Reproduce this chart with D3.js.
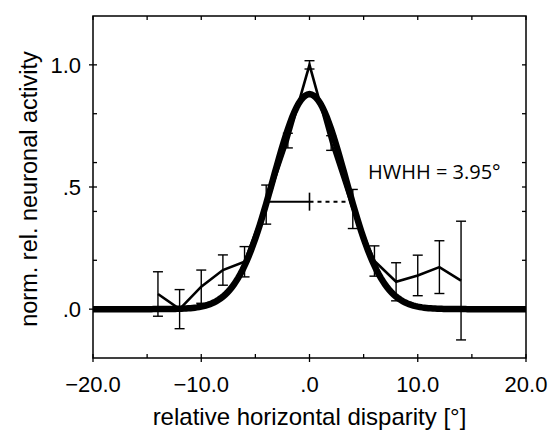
<!DOCTYPE html>
<html lang="en">
<head>
  <meta charset="UTF-8">
  <title>Disparity tuning</title>
  <style>
    body {
      margin: 0;
      background: #fff;
    }
    svg text {
      font-family: "Liberation Sans", Arial, sans-serif;
      fill: #000;
    }
  </style>
</head>
<body>
  <script src="https://d3js.org/d3.v7.min.js"></script>
  <script>
    // measured responses (mean +- error) per disparity
    const disparity = [-14, -12, -10, -8, -6, -4, -2, 0, 2, 4, 6, 8, 10, 12, 14];
    const activity  = [0.062, 0.0, 0.092, 0.16, 0.194, 0.428, 0.69, 1.0, 0.68, 0.41, 0.197, 0.112, 0.138, 0.172, 0.117];
    const errors    = [0.091, 0.08, 0.068, 0.062, 0.062, 0.08, 0.03, 0.017, 0.03, 0.08, 0.062, 0.078, 0.083, 0.108, 0.243];

    // gaussian fit
    const fitPeak = 0.88;
    const hwhh = 3.95;
    const fitX = d3.range(-20, 20.01, 0.2);

    const xTicks = [-20, -10, 0, 10, 20];
    const xTickLabels = ['\u221220.0', '\u221210.0', '.0', '10.0', '20.0'];
    const xMinor = [-15, -5, 5, 15];
    const yTicks = [0, 0.5, 1.0];
    const yTickLabels = ['.0', '.5', '1.0'];
    const yMinor = [0.2, 0.4, 0.6, 0.8];

    const width = 555, height = 433;
    const margin = {top: 16, right: 29, bottom: 75, left: 93};

    const svg = d3.select('body').append('svg')
      .attr('width', width)
      .attr('height', height);

    const x = d3.scaleLinear().domain([-20, 20]).range([margin.left, width - margin.right]);
    const y = d3.scaleLinear().domain([-0.2, 1.2]).range([height - margin.bottom, margin.top]);

    const sigma = hwhh / Math.sqrt(2 * Math.log(2));
    const gauss = v => fitPeak * Math.exp(-(v * v) / (2 * sigma * sigma));

    // frame
    svg.append('rect')
      .attr('x', x(-20)).attr('y', y(1.2))
      .attr('width', x(20) - x(-20)).attr('height', y(-0.2) - y(1.2))
      .attr('fill', 'none').attr('stroke', '#000').attr('stroke-width', 1.5);

    const tickG = svg.append('g').attr('stroke', '#000').attr('stroke-width', 1.3);

    // bottom / top ticks
    xTicks.forEach(t => {
      tickG.append('line').attr('x1', x(t)).attr('x2', x(t)).attr('y1', y(-0.2) - 4).attr('y2', y(-0.2) + 4);
      tickG.append('line').attr('x1', x(t)).attr('x2', x(t)).attr('y1', y(1.2)).attr('y2', y(1.2) + 4);
    });
    xMinor.forEach(t => {
      tickG.append('line').attr('x1', x(t)).attr('x2', x(t)).attr('y1', y(-0.2) - 4).attr('y2', y(-0.2));
      tickG.append('line').attr('x1', x(t)).attr('x2', x(t)).attr('y1', y(1.2)).attr('y2', y(1.2) + 4);
    });
    // left / right ticks
    yTicks.forEach(t => {
      tickG.append('line').attr('x1', x(-20) - 4).attr('x2', x(-20) + 4).attr('y1', y(t)).attr('y2', y(t));
      tickG.append('line').attr('x1', x(20) - 4).attr('x2', x(20)).attr('y1', y(t)).attr('y2', y(t));
    });
    yMinor.forEach(t => {
      tickG.append('line').attr('x1', x(-20)).attr('x2', x(-20) + 4).attr('y1', y(t)).attr('y2', y(t));
      tickG.append('line').attr('x1', x(20) - 4).attr('x2', x(20)).attr('y1', y(t)).attr('y2', y(t));
    });

    // tick labels
    svg.selectAll('.xlab').data(xTicks).enter().append('text')
      .attr('class', 'xlab')
      .attr('x', d => x(d))
      .attr('y', 392)
      .attr('text-anchor', 'middle')
      .style('font-size', '22px')
      .text((d, i) => xTickLabels[i]);

    svg.selectAll('.ylab').data(yTicks).enter().append('text')
      .attr('class', 'ylab')
      .attr('x', 81)
      .attr('y', d => y(d))
      .attr('dy', '0.36em')
      .attr('text-anchor', 'end')
      .style('font-size', '22px')
      .text((d, i) => yTickLabels[i]);

    // axis titles
    svg.append('text')
      .attr('x', (x(-20) + x(20)) / 2)
      .attr('y', 425)
      .attr('text-anchor', 'middle')
      .style('font-size', '24px')
      .text('relative horizontal disparity [\u00b0]');

    svg.append('text')
      .attr('transform', `translate(37,${(y(-0.2) + y(1.2)) / 2 + 2}) rotate(-90)`)
      .attr('text-anchor', 'middle')
      .style('font-size', '23.5px')
      .text('norm. rel. neuronal activity');

    const data = disparity.map((d, i) => ({x: d, y: activity[i], e: errors[i]}));

    // error bars
    const eb = svg.append('g').attr('stroke', '#000').attr('stroke-width', 1.4);
    data.forEach(d => {
      eb.append('line').attr('x1', x(d.x)).attr('x2', x(d.x)).attr('y1', y(d.y - d.e)).attr('y2', y(d.y + d.e));
      [d.y - d.e, d.y + d.e].forEach(v => {
        eb.append('line').attr('x1', x(d.x) - 5).attr('x2', x(d.x) + 5).attr('y1', y(v)).attr('y2', y(v));
      });
    });

    // data line
    svg.append('path')
      .datum(data)
      .attr('fill', 'none')
      .attr('stroke', '#000')
      .attr('stroke-width', 2.6)
      .attr('stroke-linejoin', 'miter')
      .attr('d', d3.line().x(d => x(d.x)).y(d => y(d.y)));

    // fit
    svg.append('path')
      .datum(fitX)
      .attr('fill', 'none')
      .attr('stroke', '#000')
      .attr('stroke-width', 6.5)
      .attr('d', d3.line().x(d => x(d)).y(d => y(gauss(d))));

    // half width marker
    const half = fitPeak / 2;
    svg.append('line')
      .attr('x1', x(-hwhh)).attr('x2', x(0))
      .attr('y1', y(half)).attr('y2', y(half))
      .attr('stroke', '#000').attr('stroke-width', 2);
    svg.append('line')
      .attr('x1', x(0)).attr('x2', x(hwhh))
      .attr('y1', y(half)).attr('y2', y(half))
      .attr('stroke', '#000').attr('stroke-width', 2)
      .attr('stroke-dasharray', '4,4');
    svg.append('line')
      .attr('x1', x(0)).attr('x2', x(0))
      .attr('y1', y(half) - 9).attr('y2', y(half) + 9)
      .attr('stroke', '#000').attr('stroke-width', 1.6);

    svg.append('text')
      .attr('x', 368)
      .attr('y', 179)
      .style('font-family', '"Open Sans", "Noto Sans", sans-serif')
      .style('font-size', '20px')
      .text('HWHH = 3.95\u00b0');
  </script>
</body>
</html>
